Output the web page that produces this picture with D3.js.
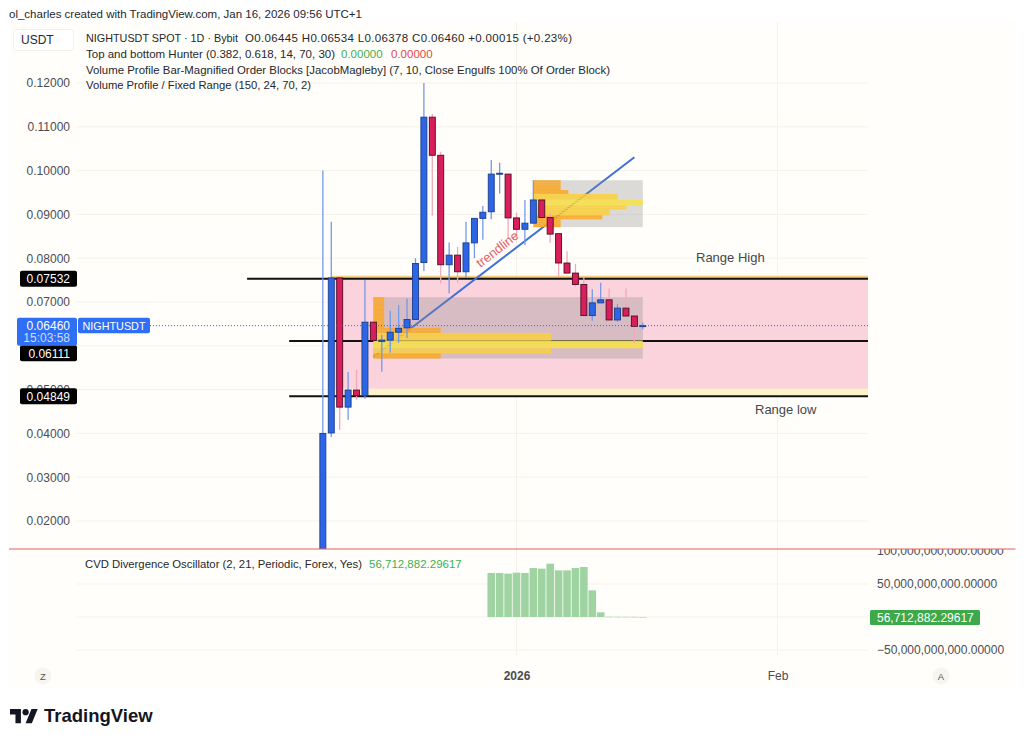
<!DOCTYPE html>
<html>
<head>
<meta charset="utf-8">
<script src="https://cdn.jsdelivr.net/npm/d3@7"></script>
<style>
  html, body { margin: 0; padding: 0; background: #fff; }
  svg { display: block; font-family: "Liberation Sans", Arial, sans-serif; }
  .axis .domain, .axis line { display: none; }
  .axis text { fill: #4a4c54; font-size: 12px; font-family: "Liberation Sans", Arial, sans-serif; }
</style>
</head>
<body>
<svg id="chart" width="1024" height="743"></svg>
<script>
// Candles, one a day, first one Dec 9 2025
const firstDay = "2025-12-09";
const candleOpen = [0.0100, 0.0401, 0.0755, 0.0460, 0.0499, 0.0486, 0.0654, 0.0610, 0.0613, 0.0631, 0.0641, 0.0660, 0.0790, 0.1122, 0.1035, 0.0785, 0.0807, 0.0769, 0.0835, 0.0891, 0.0906, 0.0992, 0.0992, 0.0892, 0.0866, 0.0880, 0.0933, 0.0893, 0.0856, 0.0789, 0.0766, 0.0740, 0.0669, 0.0698, 0.0705, 0.0659, 0.0686, 0.0668, 0.06445];
const candleClose = [0.0400, 0.0755, 0.0460, 0.0499, 0.0486, 0.0654, 0.0612, 0.0613, 0.0631, 0.0640, 0.0660, 0.0788, 0.1122, 0.1035, 0.0785, 0.0807, 0.0769, 0.0835, 0.0891, 0.0905, 0.0992, 0.0994, 0.0892, 0.0866, 0.0880, 0.0933, 0.0893, 0.0855, 0.0789, 0.0766, 0.0740, 0.0669, 0.0698, 0.0705, 0.0659, 0.0686, 0.0668, 0.06444, 0.0646];
const candleHigh = [0.1000, 0.0883, 0.0755, 0.0540, 0.0545, 0.0750, 0.0654, 0.0625, 0.0680, 0.0693, 0.0708, 0.0800, 0.1200, 0.1129, 0.1043, 0.0836, 0.0826, 0.0883, 0.0891, 0.0919, 0.1024, 0.1018, 0.0992, 0.0904, 0.0933, 0.0978, 0.0933, 0.0904, 0.0856, 0.0816, 0.0787, 0.0758, 0.0729, 0.0744, 0.0731, 0.0695, 0.0731, 0.0668, 0.06534];
const candleLow = [0.0100, 0.0392, 0.0408, 0.0431, 0.0476, 0.0479, 0.0612, 0.0541, 0.0584, 0.0607, 0.0618, 0.0660, 0.0771, 0.0897, 0.0743, 0.0720, 0.0743, 0.0755, 0.0800, 0.0842, 0.0889, 0.0948, 0.0846, 0.0842, 0.0830, 0.0880, 0.0893, 0.0835, 0.0758, 0.0766, 0.0735, 0.0669, 0.0657, 0.0698, 0.0659, 0.0655, 0.0668, 0.0606, 0.06378];

const priceTicks = [0.12, 0.11, 0.10, 0.09, 0.08, 0.07, 0.05, 0.04, 0.03, 0.02];
const levelPrices = [0.07532, 0.06111, 0.04849];
const levelStarts = ["2025-11-30", "2025-12-05", "2025-12-05"];
const lastPrice = 0.0646;

// Range box, with the thin bands at its edges
const rangeBox = [0.07532, 0.0499];
const rangeTopBand = [0.0760, 0.07532];
const rangeBottomBand = [0.0502, 0.04849];

// Fixed range volume profiles: price span, then 24 rows from top to bottom (percent of widest row)
const lowProfileSpan = [0.0711, 0.0571];
const lowProfileDays = ["2025-12-15", "2026-01-16"];
const lowProfileRows = [4, 4, 4, 4, 4, 4, 4, 4, 4, 4, 4, 4, 25, 25, 66, 66, 66, 100, 100, 100, 66, 66, 25, 25];
const highProfileSpan = [0.0978, 0.0871];
const highProfileDays = ["2026-01-03", "2026-01-16"];
const highProfileRows = [25, 25, 25, 25, 25, 32, 32, 77, 77, 77, 100, 100, 100, 85, 85, 70, 70, 70, 63, 63, 25, 25, 25, 25];

const trendDays = ["2025-12-15", "2026-01-15"];
const trendPrices = [0.05744, 0.10304];

// CVD histogram, in billions, first bar Dec 29 2025
const cvdFirstDay = "2025-12-29";
const cvdValues = [66.7, 66.7, 65.7, 67.2, 66.7, 74.2, 73.2, 80.8, 70.7, 70.7, 74.2, 75.8, 40.4, 7.1, 0.5, 0.4, 0.3, 0.3, 0.0567];
const cvdTicks = [100e9, 50e9, -50e9];
const cvdGrid = [50e9, 0, -50e9];

const timeTicks = [new Date(Date.UTC(2026, 0, 1)), new Date(Date.UTC(2026, 1, 1))];

const headerLines = [
  "Top and bottom Hunter (0.382, 0.618, 14, 70, 30)",
  "Volume Profile Bar-Magnified Order Blocks [JacobMagleby] (7, 10, Close Engulfs 100% Of Order Block)",
  "Volume Profile / Fixed Range (150, 24, 70, 2)",
];

const parseDay = d3.utcParse("%Y-%m-%d");
const svg = d3.select("#chart");

const x = d3.scaleUtc().domain(timeTicks).range([516.5, 777.5]);
const y = d3.scaleLinear().domain([0.12, 0.02]).range([83, 521]);
const yCvd = d3.scaleLinear().domain([100e9, -50e9]).range([551, 650]);

const plotLeft = 77;
const plotRight = 868;
const paneBottom = 549;

svg.append("rect").attr("x", 9).attr("y", 22).attr("width", 1006.5).attr("height", 667).attr("fill", "#fffefa");

svg.append("text").attr("x", 9).attr("y", 18).attr("font-size", 11.5).attr("fill", "#26282e")
  .text("ol_charles created with TradingView.com, Jan 16, 2026 09:56 UTC+1");

const defs = svg.append("defs");
defs.append("clipPath").attr("id", "mainClip").append("rect")
  .attr("x", plotLeft).attr("y", 22).attr("width", plotRight - plotLeft).attr("height", paneBottom - 22);
defs.append("clipPath").attr("id", "cvdAxisClip").append("rect")
  .attr("x", 868).attr("y", paneBottom).attr("width", 147).attr("height", 120);

// Grid
const grid = svg.append("g").attr("stroke", "#f4f2ea").attr("stroke-width", 1);
grid.selectAll(".h").data(priceTicks.concat([0.06])).enter().append("line")
  .attr("x1", plotLeft).attr("x2", plotRight)
  .attr("y1", (d) => y(d)).attr("y2", (d) => y(d));
grid.selectAll(".v").data(timeTicks).enter().append("line")
  .attr("x1", (d) => x(d)).attr("x2", (d) => x(d))
  .attr("y1", 22).attr("y2", 655);
grid.selectAll(".c").data(cvdGrid).enter().append("line")
  .attr("x1", plotLeft).attr("x2", plotRight)
  .attr("y1", (d) => yCvd(d)).attr("y2", (d) => yCvd(d));

const main = svg.append("g").attr("clip-path", "url(#mainClip)");

function band(span, color) {
  main.append("rect")
    .attr("x", x(parseDay("2025-12-10")))
    .attr("width", plotRight - x(parseDay("2025-12-10")))
    .attr("y", y(span[0]))
    .attr("height", y(span[1]) - y(span[0]))
    .attr("fill", color);
}
band(rangeBox, "#fbd3dd");
band(rangeBottomBand, "#fdf3c8");
band(rangeTopBand, "#f6cf7a");

// Level lines and trendline go under the profiles
main.selectAll(".level").data(levelPrices).enter().append("line")
  .attr("x1", (d, i) => x(parseDay(levelStarts[i])))
  .attr("x2", plotRight)
  .attr("y1", (d) => y(d)).attr("y2", (d) => y(d))
  .attr("stroke", "#111").attr("stroke-width", 2);

main.append("line")
  .attr("x1", x(parseDay(trendDays[0]))).attr("y1", y(trendPrices[0]))
  .attr("x2", x(parseDay(trendDays[1]))).attr("y2", y(trendPrices[1]))
  .attr("stroke", "#3f6fd9").attr("stroke-width", 2);

function drawProfile(span, days, rows, valueAreaFrom, valueAreaTo) {
  const left = x(parseDay(days[0]));
  const right = x(parseDay(days[1]));
  const rowScale = d3.scaleBand().domain(d3.range(rows.length)).range([y(span[0]), y(span[1])]);
  const widthScale = d3.scaleLinear().domain([0, 100]).range([0, right - left]);
  main.append("rect")
    .attr("x", left).attr("y", y(span[0]))
    .attr("width", right - left).attr("height", y(span[1]) - y(span[0]))
    .attr("fill", "#888").attr("opacity", 0.3);
  main.append("g").selectAll("rect").data(rows).enter().append("rect")
    .attr("x", left)
    .attr("y", (d, i) => rowScale(i))
    .attr("width", (d) => widthScale(d))
    .attr("height", rowScale.bandwidth())
    .attr("opacity", 0.92)
    .attr("fill", (d, i) => {
      if (d === 100) return "#f6e04f";
      return i >= valueAreaFrom && i <= valueAreaTo ? "#f8cf45" : "#faa92c";
    });
}
drawProfile(lowProfileSpan, lowProfileDays, lowProfileRows, 14, 21);
drawProfile(highProfileSpan, highProfileDays, highProfileRows, 7, 17);

// Last price dotted line
svg.append("line")
  .attr("x1", 150).attr("x2", plotRight)
  .attr("y1", y(lastPrice)).attr("y2", y(lastPrice))
  .attr("stroke", "#2f66e8").attr("stroke-width", 1).attr("stroke-dasharray", "1 2");

// Candles
const candles = candleOpen.map((o, i) => ({
  day: d3.utcDay.offset(parseDay(firstDay), i),
  open: o, close: candleClose[i], high: candleHigh[i], low: candleLow[i],
}));

const candleWidth = 6;
const candle = main.append("g").selectAll("g").data(candles).enter().append("g");
candle.append("line")
  .attr("x1", (d) => x(d.day)).attr("x2", (d) => x(d.day))
  .attr("y1", (d) => y(d.high)).attr("y2", (d) => y(d.low))
  .attr("stroke", (d) => (d.close >= d.open ? "#7399ea" : "#f1a9b8"))
  .attr("stroke-width", 1.3);
candle.append("rect")
  .attr("x", (d) => x(d.day) - candleWidth / 2)
  .attr("width", candleWidth)
  .attr("y", (d) => y(Math.max(d.open, d.close)))
  .attr("height", (d) => Math.max(1, Math.abs(y(d.open) - y(d.close))))
  .attr("fill", (d) => (d.close >= d.open ? "#2c66e4" : "#d81e5b"))
  .attr("stroke", (d) => (d.close >= d.open ? "#1d3f8c" : "#4d0d27"))
  .attr("stroke-width", 0.9);

// Text drawn on the chart
svg.append("text")
  .attr("transform", "translate(498,250) rotate(-38)")
  .attr("text-anchor", "middle").attr("dominant-baseline", "middle")
  .attr("font-size", 13).attr("fill", "#e4606d").text("trendline");
svg.append("text").attr("x", 696).attr("y", 262).attr("font-size", 13).attr("fill", "#45474e").text("Range High");
svg.append("text").attr("x", 755).attr("y", 414).attr("font-size", 13).attr("fill", "#45474e").text("Range low");

// Price axis
svg.append("g").attr("class", "axis")
  .attr("transform", "translate(70,0)")
  .call(d3.axisLeft(y).tickValues(priceTicks).tickFormat(d3.format(".5f")).tickSize(0).tickPadding(0));

// Level and last price badges, the middle one is pushed down by the last price badge
const badgeShift = [0, 12.3, 0];
const badges = svg.append("g");
badges.selectAll("rect").data(levelPrices).enter().append("rect")
  .attr("x", 20).attr("width", 57).attr("height", 16).attr("rx", 2)
  .attr("y", (d, i) => y(d) - 8 + badgeShift[i]).attr("fill", "#000");
badges.selectAll("text").data(levelPrices).enter().append("text")
  .attr("x", 70).attr("text-anchor", "end")
  .attr("y", (d, i) => y(d) + 4.5 + badgeShift[i]).attr("font-size", 12).attr("fill", "#fff")
  .text(d3.format(".5f"));

svg.append("rect").attr("x", 17).attr("y", y(lastPrice) - 8).attr("width", 60).attr("height", 28).attr("rx", 2).attr("fill", "#2f6ff5");
svg.append("text").attr("x", 70).attr("y", y(lastPrice) + 4.5).attr("text-anchor", "end").attr("font-size", 12).attr("fill", "#fff").text(d3.format(".5f")(lastPrice));
svg.append("text").attr("x", 70).attr("y", y(lastPrice) + 16.5).attr("text-anchor", "end").attr("font-size", 12).attr("fill", "#cfdcff").text("15:03:58");
svg.append("rect").attr("x", 78).attr("y", y(lastPrice) - 8).attr("width", 72).attr("height", 15.5).attr("rx", 2).attr("fill", "#2f6ff5");
svg.append("text").attr("x", 114).attr("y", y(lastPrice) + 4).attr("text-anchor", "middle").attr("font-size", 10.8).attr("fill", "#fff").text("NIGHTUSDT");

// Legend block
svg.append("rect").attr("x", 13.5).attr("y", 29.5).attr("width", 60).attr("height", 21).attr("rx", 3)
  .attr("fill", "#fff").attr("stroke", "#f2f0ea");
svg.append("text").attr("x", 21).attr("y", 44).attr("font-size", 12).attr("fill", "#26282e").text("USDT");

svg.append("text").attr("x", 86).attr("y", 42).attr("font-size", 11.5).attr("fill", "#26282e")
  .attr("textLength", 152).attr("lengthAdjust", "spacingAndGlyphs")
  .text("NIGHTUSDT SPOT · 1D · Bybit");
svg.append("text").attr("x", 245).attr("y", 42).attr("font-size", 11.5).attr("fill", "#26282e")
  .attr("textLength", 327)
  .text("O0.06445 H0.06534 L0.06378 C0.06460 +0.00015 (+0.23%)");

const headerWidths = [249, 524, 225];
svg.append("g").selectAll("text").data(headerLines).enter().append("text")
  .attr("x", 86).attr("y", (d, i) => 58 + i * 15.5)
  .attr("font-size", 11.5).attr("fill", "#26282e")
  .attr("textLength", (d, i) => headerWidths[i]).attr("lengthAdjust", "spacingAndGlyphs")
  .text((d) => d);
svg.append("text").attr("x", 341).attr("y", 58).attr("font-size", 11.5).attr("fill", "#3fae52").text("0.00000");
svg.append("text").attr("x", 391).attr("y", 58).attr("font-size", 11.5).attr("fill", "#e5484d").text("0.00000");

// CVD pane
const cvd = svg.append("g");
cvd.selectAll("rect").data(cvdValues).enter().append("rect")
  .attr("x", (d, i) => x(d3.utcDay.offset(parseDay(cvdFirstDay), i)) - 3.8)
  .attr("width", 7.6)
  .attr("y", (d) => yCvd(d * 1e9))
  .attr("height", (d) => Math.max(0.6, yCvd(0) - yCvd(d * 1e9)))
  .attr("fill", "#9fd4a2");

svg.append("g").attr("clip-path", "url(#cvdAxisClip)").append("g").attr("class", "axis")
  .attr("transform", "translate(877,0)")
  .call(d3.axisRight(yCvd).tickValues(cvdTicks).tickFormat(d3.format(",.5f")).tickSize(0).tickPadding(0));

svg.append("line").attr("x1", 9).attr("x2", 1015.5).attr("y1", paneBottom).attr("y2", paneBottom)
  .attr("stroke", "#e05f60").attr("stroke-width", 1);

svg.append("rect").attr("x", 870).attr("y", 610).attr("width", 110).attr("height", 15).attr("rx", 1.5).attr("fill", "#3ea84d");
svg.append("text").attr("x", 877).attr("y", 621.5).attr("font-size", 12).attr("fill", "#fff").text("56,712,882.29617");

svg.append("text").attr("x", 85).attr("y", 568).attr("font-size", 11.5).attr("fill", "#26282e")
  .attr("textLength", 277).attr("lengthAdjust", "spacingAndGlyphs")
  .text("CVD Divergence Oscillator (2, 21, Periodic, Forex, Yes)");
svg.append("text").attr("x", 369).attr("y", 568).attr("font-size", 11.5).attr("fill", "#3fae52").text("56,712,882.29617");

// Time axis
svg.append("g").attr("class", "axis")
  .attr("transform", "translate(0,671)")
  .call(d3.axisBottom(x).tickValues(timeTicks).tickSize(0).tickPadding(0)
    .tickFormat((d) => (d.getUTCMonth() === 0 ? d.getUTCFullYear() : "Feb")))
  .selectAll("text")
  .style("font-weight", (d) => (d.getUTCMonth() === 0 ? "bold" : "normal"));

// Scale mode buttons
const modes = [["Z", 43], ["A", 941]];
const modeBtn = svg.append("g").selectAll("g").data(modes).enter().append("g")
  .attr("transform", (d) => `translate(${d[1]},676)`);
modeBtn.append("circle").attr("r", 8.5).attr("fill", "#f6f5f1");
modeBtn.append("text").attr("text-anchor", "middle").attr("y", 3.5).attr("font-size", 9.5).attr("fill", "#555").text((d) => d[0]);

// Logo
svg.append("g").attr("transform", "translate(10,706) scale(0.78)").attr("fill", "#131722").call((g) => {
  g.append("path").attr("d", "M14 22H7V11H0V4h14v18zM28 22h-8l7.5-18h8L28 22z");
  g.append("circle").attr("cx", 20).attr("cy", 8).attr("r", 4);
});
svg.append("text").attr("x", 44).attr("y", 722).attr("font-size", 18.5).attr("font-weight", "bold").attr("fill", "#131722").text("TradingView");
</script>
</body>
</html>
